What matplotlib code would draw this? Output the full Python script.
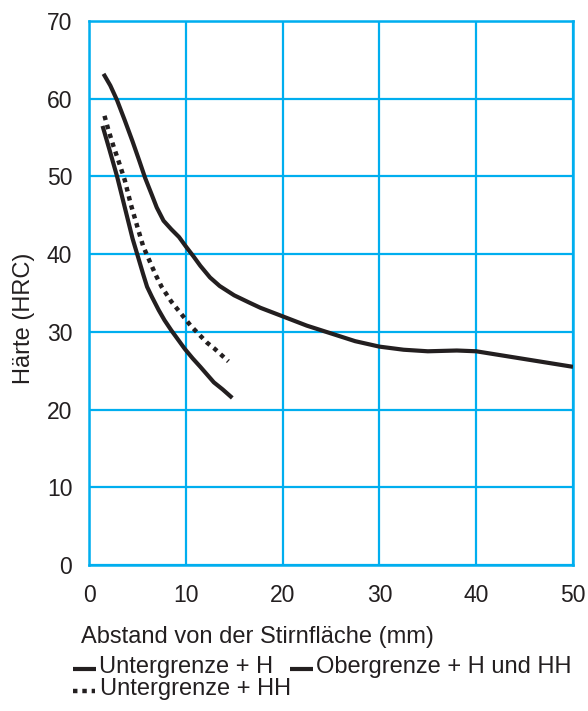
import matplotlib
matplotlib.use("Agg")
import matplotlib.pyplot as plt
from matplotlib.lines import Line2D

plt.rcParams['font.family'] = ['Liberation Sans', 'DejaVu Sans']

# Data
upper_x = [1.5, 2.2, 2.9, 3.7, 4.5, 5.2, 5.8, 6.5, 7.0, 7.7, 8.5, 9.3, 10.0, 10.8, 11.5, 12.5, 13.5, 15.0, 16.5, 17.7, 20.0, 22.5, 25.0, 27.5, 30.0, 32.5, 35.0, 38.0, 40.0, 42.5, 45.0, 47.5, 50.0]
upper_y = [63.2, 61.7, 59.8, 57.2, 54.5, 52.0, 49.8, 47.6, 46.0, 44.3, 43.2, 42.2, 41.0, 39.7, 38.5, 37.0, 35.9, 34.7, 33.8, 33.1, 32.0, 30.8, 29.8, 28.8, 28.1, 27.7, 27.5, 27.6, 27.5, 27.0, 26.5, 26.0, 25.5]

lower_h_x = [1.4, 2.1, 2.9, 3.5, 4.0, 4.5, 5.1, 5.6, 6.0, 6.5, 7.2, 7.8, 8.5, 9.2, 9.9, 10.7, 11.5, 12.2, 12.9, 13.8, 14.8]
lower_h_y = [56.5, 53.5, 50.0, 47.0, 44.5, 42.0, 39.5, 37.4, 35.8, 34.5, 32.8, 31.5, 30.2, 29.0, 27.8, 26.6, 25.5, 24.5, 23.5, 22.6, 21.5]

lower_hh_x = [1.6, 2.0, 2.5, 3.1, 3.7, 4.3, 5.0, 5.6, 6.3, 6.9, 7.5, 8.5, 9.6, 10.5, 11.5, 12.2, 13.0, 13.7, 14.4]
lower_hh_y = [57.8, 56.0, 54.0, 51.8, 49.5, 46.5, 43.5, 41.0, 39.0, 37.3, 35.8, 33.9, 32.2, 30.8, 29.5, 28.6, 27.8, 27.0, 26.2]

x_ticks = [0, 10, 20, 30, 40, 50]
y_ticks = [0, 10, 20, 30, 40, 50, 60, 70]

grid_col = '#00aeef'
txt_col = '#231f20'

fig = plt.figure(figsize=(5.88, 7.11), dpi=100)
W, H = 588, 711
ax = fig.add_axes([89 / W, 1 - 565 / H, (573 - 89) / W, (565 - 21) / H])

ax.plot(upper_x, upper_y, color=txt_col, lw=3.0, solid_capstyle='butt', solid_joinstyle='round', zorder=3)
ax.plot(lower_h_x, lower_h_y, color=txt_col, lw=3.0, solid_capstyle='butt', solid_joinstyle='round', zorder=3)
ax.plot(lower_hh_x, lower_hh_y, color=txt_col, lw=3.2, linestyle=(0, (1, 1.1)), dash_capstyle='butt', zorder=3)

ax.set_xlim(0, 50)
ax.set_ylim(0, 70)
ax.set_xticks(x_ticks)
ax.set_yticks(y_ticks)
ax.grid(True, color=grid_col, lw=1.6)
ax.set_axisbelow(True)
for s in ax.spines.values():
    s.set_color(grid_col)
    s.set_linewidth(1.8)
ax.tick_params(length=0, labelsize=16.5, colors=txt_col)
ax.tick_params(axis='x', pad=14)
ax.tick_params(axis='y', pad=12)

fig.text(24 / W, 1 - 318 / H, 'Härte (HRC)', fontsize=17, color=txt_col,
         ha='center', va='center', rotation=90)
fig.text(81 / W, 1 - 637 / H, 'Abstand von der Stirnfläche (mm)', fontsize=17, color=txt_col,
         ha='left', va='center')

# Legend built manually
def leg_item(x0, x1, y, label, ls, gap):
    fy = 1 - y / H
    fig.add_artist(Line2D([x0 / W, x1 / W], [fy, fy], color=txt_col, lw=3.0 if ls == '-' else 3.2,
                          linestyle=ls if ls == '-' else (0, (1, 1.1)), solid_capstyle='butt',
                          dash_capstyle='butt', transform=fig.transFigure))
    fig.text((x1 + gap) / W, fy + 1.5 / H, label, fontsize=17, color=txt_col, ha='left', va='center')

leg_item(73, 96, 669, 'Untergrenze + H', '-', 3)
leg_item(290, 313, 669, 'Obergrenze + H und HH', '-', 3)
leg_item(73, 95, 691, 'Untergrenze + HH', ':', 5)

fig.savefig('out.png', dpi=100)
